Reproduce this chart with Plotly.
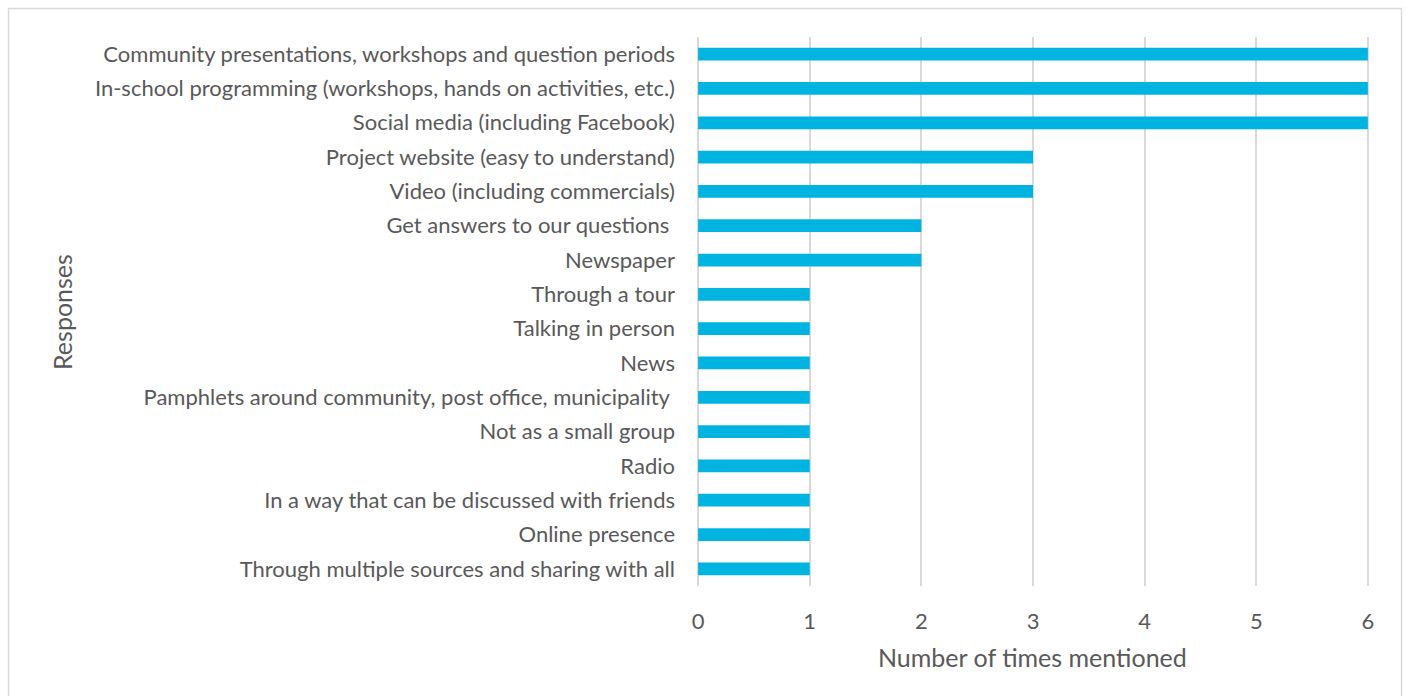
import plotly.graph_objects as go

# Survey responses and how often each was mentioned
responses = [
    "Community presentations, workshops and question periods",
    "In-school programming (workshops, hands on activities, etc.)",
    "Social media (including Facebook)",
    "Project website (easy to understand)",
    "Video (including commercials)",
    "Get answers to our questions ",
    "Newspaper",
    "Through a tour",
    "Talking in person",
    "News",
    "Pamphlets around community, post office, municipality ",
    "Not as a small group",
    "Radio",
    "In a way that can be discussed with friends",
    "Online presence",
    "Through multiple sources and sharing with all",
]
mentions = [6, 6, 6, 3, 3, 2, 2, 1, 1, 1, 1, 1, 1, 1, 1, 1]
x_ticks = [0, 1, 2, 3, 4, 5, 6]

W, H = 1406, 696
ML, MR, MT, MB = 697, 37, 37, 110
FONT = "Lato, Carlito, Calibri, sans-serif"
TEXT = "#595959"
GRID = "#D9D9D9"

fig = go.Figure(
    go.Bar(
        y=responses,
        x=mentions,
        orientation="h",
        marker=dict(color="#00B4E2", line=dict(width=0)),
        width=0.37,
    )
)

pw = W - ML - MR
ph = H - MT - MB


def px_to_paper_x(px):
    return (px - ML) / pw


def px_to_paper_y(py):
    return 1 - (py - MT) / ph


fig.update_layout(
    width=W,
    height=H,
    margin=dict(l=ML, r=MR, t=MT, b=MB, pad=0),
    paper_bgcolor="white",
    plot_bgcolor="white",
    showlegend=False,
    font=dict(family=FONT, size=22, color=TEXT),
    xaxis=dict(
        range=[-0.01, 6.01],
        tickvals=x_ticks,
        ticktext=[str(v) for v in x_ticks],
        showgrid=True,
        gridcolor=GRID,
        gridwidth=1.5,
        zeroline=True,
        zerolinecolor=GRID,
        zerolinewidth=1.5,
        showline=False,
        ticks="",
        ticklabelstandoff=20,
        tickfont=dict(family=FONT, size=22, color=TEXT),
    ),
    yaxis=dict(
        autorange="reversed",
        showgrid=False,
        zeroline=False,
        showline=False,
        ticks="",
        ticklabelstandoff=21,
        tickfont=dict(family=FONT, size=22, color=TEXT),
    ),
    annotations=[
        dict(
            text="Number of times mentioned",
            xref="paper", yref="paper",
            x=px_to_paper_x(1032), y=px_to_paper_y(657),
            xanchor="center", yanchor="middle",
            showarrow=False,
            font=dict(family=FONT, size=25, color=TEXT),
        ),
        dict(
            text="Responses",
            xref="paper", yref="paper",
            x=px_to_paper_x(62), y=px_to_paper_y(312),
            xanchor="center", yanchor="middle",
            textangle=-90,
            showarrow=False,
            font=dict(family=FONT, size=25, color=TEXT),
        ),
    ],
    shapes=[
        dict(
            type="rect",
            xref="paper", yref="paper",
            x0=px_to_paper_x(8.5), x1=px_to_paper_x(1401.5),
            y0=px_to_paper_y(700), y1=px_to_paper_y(8.5),
            line=dict(color=GRID, width=1.5),
            fillcolor="rgba(0,0,0,0)",
            layer="below",
        )
    ],
)

fig.write_html("out.html")
